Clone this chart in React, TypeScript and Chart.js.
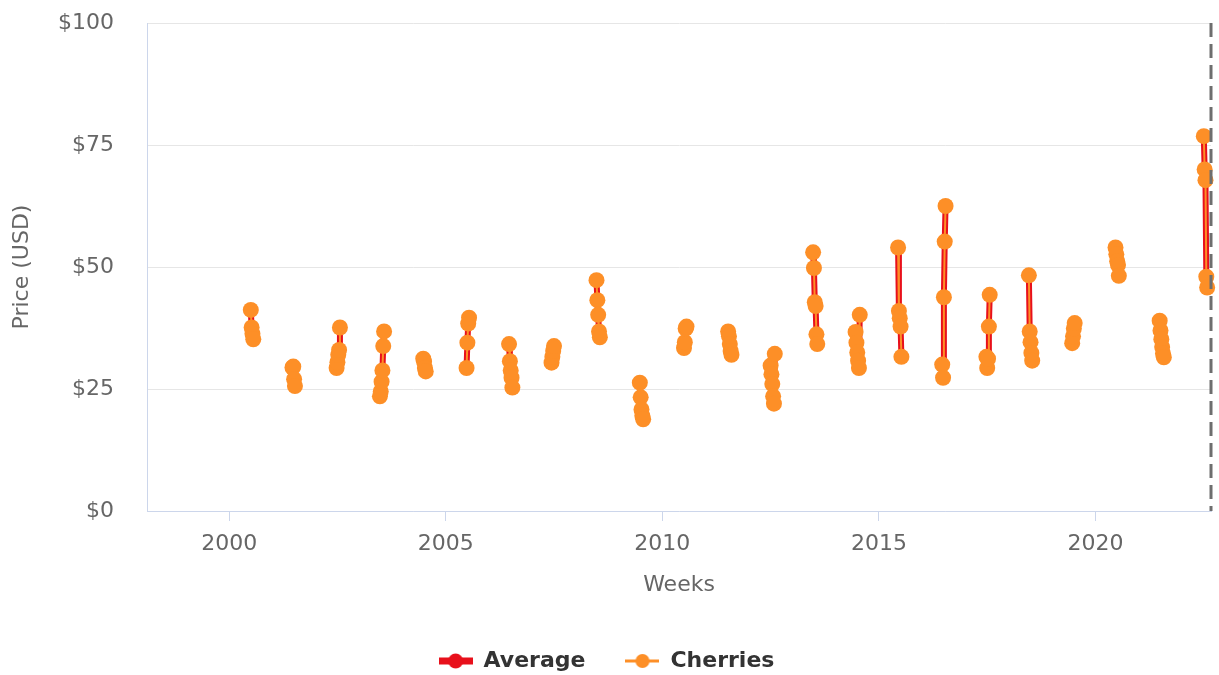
import React, { useEffect, useRef } from "react";
import { Chart, registerables } from "chart.js";

Chart.register(...registerables);

// ---- data ----
const seasonYears = [
  2000, 2001, 2002, 2003, 2004, 2005, 2006, 2007, 2008, 2009, 2010, 2011,
  2012, 2013, 2014, 2015, 2016, 2017, 2018, 2019, 2020, 2021, 2022,
];
// week of year of the first weekly price in each season
const firstWeek = [
  26, 24, 25, 25, 25, 25, 24, 23, 25, 25, 26, 27, 26, 25, 24, 23, 24, 25, 24,
  24, 24, 25, 26,
];
const cherryPrices: number[][] = [
  [41.2, 37.6, 36.3, 35.2],
  [29.4, 29.6, 27.0, 25.6],
  [29.3, 30.5, 32.0, 33.0, 37.6],
  [23.5, 24.5, 26.5, 28.8, 33.8, 36.8],
  [31.2, 30.6, 29.3, 28.6],
  [29.3, 34.5, 38.4, 39.6],
  [34.2, 30.7, 28.8, 27.3, 25.3],
  [30.4, 31.6, 32.8, 33.8],
  [47.3, 43.2, 40.2, 36.8, 35.6],
  [26.3, 23.3, 20.8, 19.5, 18.8],
  [33.4, 34.6, 37.4, 37.8],
  [36.8, 35.8, 34.2, 32.8, 32.0],
  [29.8, 28.0, 26.0, 23.5, 22.0, 32.2],
  [53.0, 49.8, 42.8, 42.0, 36.2, 34.2],
  [36.7, 34.5, 32.5, 30.8, 29.3, 40.2],
  [54.0, 41.0, 39.5, 37.8, 31.6],
  [30.0, 27.3, 43.8, 55.2, 62.5],
  [31.6, 29.3, 31.2, 37.8, 44.3],
  [48.3, 36.8, 34.6, 32.4, 30.8],
  [34.4, 35.8, 37.4, 38.5],
  [54.0, 52.6, 51.2, 50.4, 48.2],
  [39.0, 37.0, 35.2, 33.6, 32.3, 31.5],
  [76.8, 70.0, 67.8, 48.0, 45.8],
];
// the weekly average coincides with the cherry series in the picture
const averagePrices: number[][] = [
  [41.2, 37.6, 36.3, 35.2],
  [29.4, 29.6, 27.0, 25.6],
  [29.3, 30.5, 32.0, 33.0, 37.6],
  [23.5, 24.5, 26.5, 28.8, 33.8, 36.8],
  [31.2, 30.6, 29.3, 28.6],
  [29.3, 34.5, 38.4, 39.6],
  [34.2, 30.7, 28.8, 27.3, 25.3],
  [30.4, 31.6, 32.8, 33.8],
  [47.3, 43.2, 40.2, 36.8, 35.6],
  [26.3, 23.3, 20.8, 19.5, 18.8],
  [33.4, 34.6, 37.4, 37.8],
  [36.8, 35.8, 34.2, 32.8, 32.0],
  [29.8, 28.0, 26.0, 23.5, 22.0, 32.2],
  [53.0, 49.8, 42.8, 42.0, 36.2, 34.2],
  [36.7, 34.5, 32.5, 30.8, 29.3, 40.2],
  [54.0, 41.0, 39.5, 37.8, 31.6],
  [30.0, 27.3, 43.8, 55.2, 62.5],
  [31.6, 29.3, 31.2, 37.8, 44.3],
  [48.3, 36.8, 34.6, 32.4, 30.8],
  [34.4, 35.8, 37.4, 38.5],
  [54.0, 52.6, 51.2, 50.4, 48.2],
  [39.0, 37.0, 35.2, 33.6, 32.3, 31.5],
  [76.8, 70.0, 67.8, 48.0, 45.8],
];
const xTickYears = [2000, 2005, 2010, 2015, 2020];
const yTickValues = [0, 25, 50, 75, 100];
const xRange = [1998.104, 2022.666];
const currentMarker = 2022.666;
const seriesNames = ["Average", "Cherries"];

const RED = "#e8101b";
const ORANGE = "#fd8f27";
const AXIS = "#ccd6eb";
const TEXT = "#666666";
const FONT = "'DejaVu Sans', sans-serif";

function toPoints(prices: number[][]) {
  const pts: { x: number; y: number | null }[] = [];
  seasonYears.forEach((yr, i) => {
    prices[i].forEach((p, j) => pts.push({ x: yr + (firstWeek[i] + j) / 52, y: p }));
    pts.push({ x: yr + (firstWeek[i] + prices[i].length) / 52, y: null });
  });
  return pts;
}

function legendSymbol(color: string, lineW: number, r: number) {
  const c = document.createElement("canvas");
  c.width = 34;
  c.height = 18;
  const g = c.getContext("2d")!;
  g.strokeStyle = color;
  g.lineWidth = lineW;
  g.beginPath();
  g.moveTo(0, 9);
  g.lineTo(34, 9);
  g.stroke();
  g.fillStyle = color;
  g.beginPath();
  g.arc(17, 9, r, 0, Math.PI * 2);
  g.fill();
  return c;
}

const markerLine = {
  id: "markerLine",
  afterDatasetsDraw(chart: any) {
    const { ctx, chartArea, scales } = chart;
    const x = Math.round(scales.x.getPixelForValue(currentMarker));
    ctx.save();
    ctx.strokeStyle = "#6e6e6e";
    ctx.lineWidth = 3;
    ctx.setLineDash([14, 7]);
    ctx.beginPath();
    ctx.moveTo(x, chartArea.top);
    ctx.lineTo(x, chartArea.bottom);
    ctx.stroke();
    ctx.restore();
  },
};

export default function App() {
  const ref = useRef<HTMLCanvasElement>(null);
  useEffect(() => {
    const avgSym = legendSymbol(RED, 7, 7.5);
    const cherSym = legendSymbol(ORANGE, 3, 7);
    const chart = new Chart(ref.current!, {
      type: "line",
      data: {
        datasets: [
          {
            label: seriesNames[0],
            data: toPoints(averagePrices) as any,
            borderColor: RED,
            backgroundColor: RED,
            borderWidth: 6,
            borderJoinStyle: "round",
            borderCapStyle: "round",
            pointRadius: 0,
            pointHoverRadius: 0,
            spanGaps: false,
            tension: 0,
            order: 2,
            clip: false as any,
          },
          {
            label: seriesNames[1],
            data: toPoints(cherryPrices) as any,
            borderColor: ORANGE,
            backgroundColor: ORANGE,
            borderWidth: 2,
            borderJoinStyle: "round",
            pointRadius: 8,
            pointBorderWidth: 0,
            pointBackgroundColor: ORANGE,
            pointHoverRadius: 8,
            spanGaps: false,
            tension: 0,
            order: 1,
            clip: false as any,
          },
        ],
      },
      options: {
        animation: false,
        responsive: false,
        devicePixelRatio: 1,
        events: [],
        layout: { padding: { top: 23, right: 6, left: 0, bottom: -7 } },
        plugins: {
          tooltip: { enabled: false },
          legend: {
            position: "bottom",
            labels: {
              usePointStyle: true,
              pointStyleWidth: 34,
              padding: 40,
              color: "#333333",
              font: { family: FONT, size: 22, weight: "bold" },
              generateLabels: () => [
                {
                  text: seriesNames[0],
                  pointStyle: avgSym as any,
                  fillStyle: "transparent",
                  strokeStyle: "transparent",
                  lineWidth: 0,
                  fontColor: "#333333",
                  hidden: false,
                  datasetIndex: 0,
                },
                {
                  text: seriesNames[1],
                  pointStyle: cherSym as any,
                  fillStyle: "transparent",
                  strokeStyle: "transparent",
                  lineWidth: 0,
                  fontColor: "#333333",
                  hidden: false,
                  datasetIndex: 1,
                },
              ],
            },
          },
        },
        scales: {
          x: {
            type: "linear",
            min: xRange[0],
            max: xRange[1],
            afterFit: (s: any) => {
              s.height = 99;
              s.paddingLeft = 0;
              s.paddingRight = 0;
            },
            afterBuildTicks: (s: any) => {
              s.ticks = xTickYears.map((v) => ({ value: v }));
            },
            grid: {
              drawOnChartArea: false,
              drawTicks: true,
              tickLength: 10,
              color: AXIS,
              lineWidth: 1,
            },
            border: { display: true, color: AXIS, width: 1 },
            ticks: {
              color: TEXT,
              font: { family: FONT, size: 22 },
              padding: 10,
              maxRotation: 0,
              autoSkip: false,
              callback: (v: any) => String(v),
            },
            title: {
              display: true,
              text: "Weeks",
              color: TEXT,
              font: { family: FONT, size: 22 },
              padding: { top: 0, bottom: 12 },
            },
          },
          y: {
            min: 0,
            max: 100,
            afterFit: (s: any) => {
              s.width = 147;
              s.paddingTop = 0;
              s.paddingBottom = 0;
            },
            afterBuildTicks: (s: any) => {
              s.ticks = yTickValues.map((v) => ({ value: v }));
            },
            grid: { color: "#e6e6e6", lineWidth: 1, drawTicks: false },
            border: { display: true, color: AXIS, width: 1 },
            ticks: {
              color: TEXT,
              font: { family: FONT, size: 22 },
              padding: 33,
              callback: (v: any) => "$" + v,
            },
            title: {
              display: true,
              text: "Price (USD)",
              color: TEXT,
              font: { family: FONT, size: 22 },
              padding: { top: 9, bottom: 0 },
            },
          },
        },
      } as any,
      plugins: [markerLine],
    });
    return () => chart.destroy();
  }, []);
  return (
    <div style={{ position: "fixed", left: 0, top: 0, width: 1219, height: 675, background: "#fff" }}>
      <canvas ref={ref} width={1219} height={675} style={{ width: 1219, height: 675 }} />
    </div>
  );
}
